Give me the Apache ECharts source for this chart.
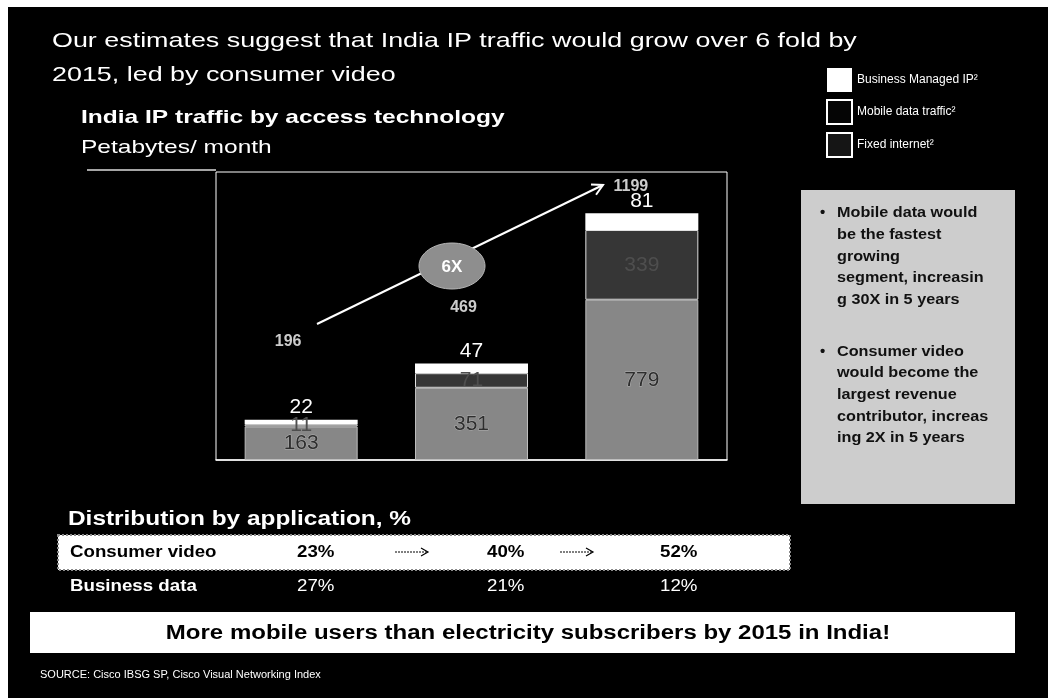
<!DOCTYPE html>
<html>
<head>
<meta charset="utf-8">
<script src="https://cdn.jsdelivr.net/npm/echarts@6/dist/echarts.min.js"></script>
<style>
  html, body { margin: 0; padding: 0; background: #fff; }
  #chart { width: 1048px; height: 698px; }
</style>
</head>
<body>
<div id="chart"></div>
<script>
// India IP traffic, petabytes per month, stacked by access technology
const years = ['2010', '2012', '2015'];
const fixedInternet = [163, 351, 779];
const mobileData = [11, 71, 339];
const businessIP = [22, 47, 81];

// Share of traffic by application
const appLabels = ['Consumer video', 'Business data'];
const consumerVideo = ['23%', '40%', '52%'];
const businessData = ['27%', '21%', '12%'];

const totals = years.map((_, i) => fixedInternet[i] + mobileData[i] + businessIP[i]);

const FONT = "'Liberation Sans', Arial, sans-serif";
const chart = echarts.init(document.getElementById('chart'));

// Growth arrow drawn across the chart
const ax1 = 317, ay1 = 324, ax2 = 603, ay2 = 185;
const len = Math.hypot(ax2 - ax1, ay2 - ay1);
const ux = (ax2 - ax1) / len, uy = (ay2 - ay1) / len;
const head = 12, spread = 0.5;
function rot(x, y, a) { return [x * Math.cos(a) - y * Math.sin(a), x * Math.sin(a) + y * Math.cos(a)]; }
const h1 = rot(-ux * head, -uy * head, spread);
const h2 = rot(-ux * head, -uy * head, -spread);

// text helper; sx widens the glyphs horizontally
function txt(x, y, text, size, opts) {
  opts = opts || {};
  return {
    type: 'text', x: x, y: y, z: 50, scaleX: opts.sx || 1,
    style: Object.assign({
      text: text, fill: '#fff', font: (opts.weight || 'normal') + ' ' + size + 'px ' + FONT,
      verticalAlign: 'middle', align: 'left'
    }, opts.style)
  };
}

function smallArrow(x, y) {
  return [
    { type: 'line', z: 50, shape: { x1: x, y1: y, x2: x + 32, y2: y },
      style: { stroke: '#000', lineWidth: 1.2, lineDash: [2, 1] } },
    { type: 'polyline', z: 50, shape: { points: [[x + 26, y - 4], [x + 33, y], [x + 26, y + 4]] },
      style: { stroke: '#000', lineWidth: 1.2, fill: null } }
  ];
}

const colX = [297, 487, 660];

const graphics = [
  // white page margins
  { type: 'rect', z: 1, shape: { x: 0, y: 0, width: 1048, height: 7 }, style: { fill: '#fff' } },
  { type: 'rect', z: 1, shape: { x: 0, y: 0, width: 8, height: 698 }, style: { fill: '#fff' } },

  txt(52, 41, 'Our estimates suggest that India IP traffic would grow over 6 fold by', 21, { sx: 1.28 }),
  txt(52, 75, '2015, led by consumer video', 21, { sx: 1.28 }),
  txt(81, 118, 'India IP traffic by access technology', 19, { weight: 'bold', sx: 1.29 }),
  txt(81, 148, 'Petabytes/ month', 19, { sx: 1.29 }),
  { type: 'line', z: 50, shape: { x1: 87, y1: 170, x2: 216, y2: 170 }, style: { stroke: '#ddd', lineWidth: 1.5 } },

  // growth arrow with ellipse badge
  { type: 'line', z: 50, shape: { x1: ax1, y1: ay1, x2: ax2, y2: ay2 }, style: { stroke: '#fff', lineWidth: 2 } },
  { type: 'polyline', z: 50, shape: { points: [[ax2 + h1[0], ay2 + h1[1]], [ax2, ay2], [ax2 + h2[0], ay2 + h2[1]]] },
    style: { stroke: '#fff', lineWidth: 2, fill: null } },
  { type: 'ellipse', z: 51, shape: { cx: 452, cy: 266, rx: 33, ry: 23 },
    style: { fill: '#8e8e8e', stroke: '#b5b5b5', lineWidth: 1 } },
  Object.assign(txt(452, 267, '6X', 17, { weight: 'bold', style: { align: 'center' } }), { z: 52 }),

  // commentary box
  { type: 'rect', z: 40, shape: { x: 801, y: 190, width: 214, height: 314 }, style: { fill: '#cdcdcd' } }
];

const boxLines = [
  ['•', 'Mobile data would'], ['', 'be the fastest'], ['', 'growing'], ['', 'segment, increasin'], ['', 'g 30X in 5 years'],
  null,
  ['•', 'Consumer video'], ['', 'would become the'], ['', 'largest revenue'], ['', 'contributor, increas'], ['', 'ing 2X in 5 years']
];
let by = 213;
boxLines.forEach(l => {
  if (!l) { by += 30; return; }
  if (l[0]) graphics.push(txt(820, by, l[0], 15, { weight: 'bold', style: { fill: '#111' } }));
  graphics.push(txt(837, by, l[1], 15, { weight: 'bold', sx: 1.08, style: { fill: '#111' } }));
  by += 21.7;
});

// distribution table
graphics.push(txt(68, 519, 'Distribution by application, %', 20, { weight: 'bold', sx: 1.22 }));
graphics.push({ type: 'rect', z: 40, shape: { x: 58, y: 535, width: 732, height: 35 },
  style: { fill: '#fff', stroke: '#8a8a8a', lineWidth: 2, lineDash: [2, 2] } });
graphics.push(txt(70, 552, appLabels[0], 17, { weight: 'bold', sx: 1.1, style: { fill: '#000' } }));
graphics.push(txt(70, 586, appLabels[1], 17, { weight: 'bold', sx: 1.1 }));
consumerVideo.forEach((v, i) => graphics.push(txt(colX[i], 552, v, 17, { weight: 'bold', sx: 1.1, style: { fill: '#000' } })));
businessData.forEach((v, i) => graphics.push(txt(colX[i], 586, v, 17, { sx: 1.1 })));
graphics.push(...smallArrow(395, 552), ...smallArrow(560, 552));

// banner and source
graphics.push({ type: 'rect', z: 40, shape: { x: 30, y: 612, width: 985, height: 41 }, style: { fill: '#fff' } });
graphics.push(txt(528, 633, 'More mobile users than electricity subscribers by 2015 in India!', 20,
  { weight: 'bold', sx: 1.2, style: { fill: '#000', align: 'center' } }));
graphics.push(txt(40, 675, 'SOURCE: Cisco IBSG SP, Cisco Visual Networking Index', 10, { sx: 1.1 }));

const totalOffsets = [[-13, -78], [-8, -56], [-11, -27]];

chart.setOption({
  backgroundColor: '#000',
  animation: false,
  textStyle: { fontFamily: FONT },
  grid: { left: 216, top: 172, width: 511, height: 288, show: true, borderColor: '#fff', borderWidth: 1 },
  legend: {
    orient: 'vertical', left: 826, top: 68, padding: 0, itemWidth: 25, itemHeight: 24, itemGap: 7,
    icon: 'rect', textStyle: { color: '#fff', fontSize: 12, fontFamily: FONT },
    data: [
      { name: 'Business Managed IP²', itemStyle: { color: '#fff', borderWidth: 0 } },
      { name: 'Mobile data traffic²', itemStyle: { color: '#050505', borderColor: '#fff', borderWidth: 2 } },
      { name: 'Fixed internet²', itemStyle: { color: '#151515', borderColor: '#fff', borderWidth: 2 } }
    ]
  },
  xAxis: {
    type: 'category', data: years,
    axisLine: { show: true, lineStyle: { color: '#fff', width: 1.5 } },
    axisTick: { show: false }, axisLabel: { show: false }
  },
  yAxis: { type: 'value', min: 0, max: 1400, show: false, splitLine: { show: false } },
  series: [
    {
      name: 'Fixed internet²', type: 'bar', stack: 'traffic', data: fixedInternet, barWidth: 113,
      itemStyle: { color: '#878787', borderColor: '#bdbdbd', borderWidth: 1 },
      label: { show: true, position: 'inside', color: '#2e2e2e', fontSize: 21, fontFamily: FONT,
        textBorderColor: '#b0b0b0', textBorderWidth: 1 }
    },
    {
      name: 'Mobile data traffic²', type: 'bar', stack: 'traffic', data: mobileData,
      itemStyle: { color: '#363636', borderColor: '#e0e0e0', borderWidth: 1 },
      label: { show: true, position: 'inside', color: '#4e4e4e', fontSize: 21, fontFamily: FONT }
    },
    {
      name: 'Business Managed IP²', type: 'bar', stack: 'traffic', data: businessIP,
      itemStyle: { color: '#ffffff' },
      label: { show: true, position: 'top', distance: 2, color: '#fff', fontSize: 21, fontFamily: FONT }
    },
    {
      name: 'Total', type: 'scatter', symbolSize: 0, z: 10,
      data: totals.map((t, i) => ({
        value: [years[i], t],
        label: { offset: totalOffsets[i] }
      })),
      label: { show: true, position: 'inside', color: '#fff', fontSize: 16, fontWeight: 'bold', fontFamily: FONT,
        formatter: p => String(p.value[1]) }
    }
  ],
  graphic: { elements: graphics }
});
</script>
</body>
</html>
